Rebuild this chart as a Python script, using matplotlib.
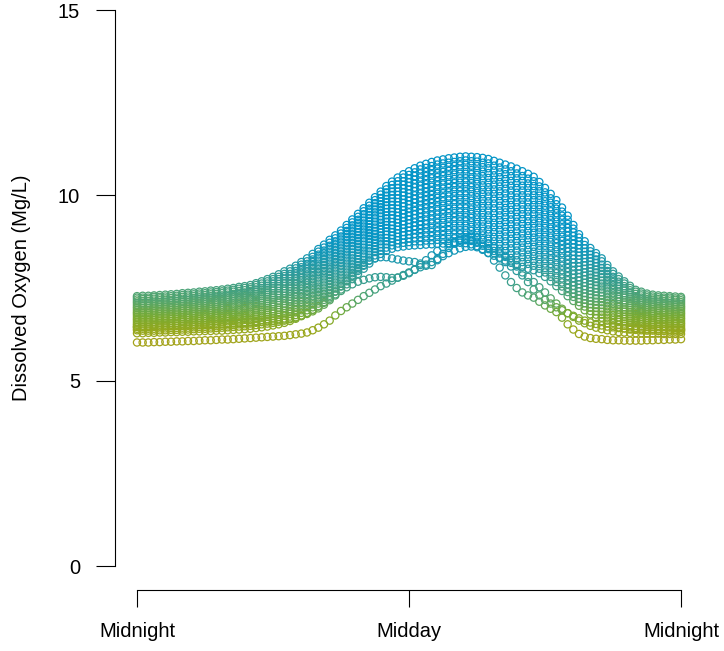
import numpy as np
import matplotlib
matplotlib.use("Agg")
import matplotlib.pyplot as plt
from matplotlib.colors import LinearSegmentedColormap, Normalize

plt.rcParams['font.family'] = ['Liberation Sans', 'DejaVu Sans']

# logger reads every 15 minutes, midnight to midnight
hours = np.linspace(0, 24, 97)

# dissolved oxygen (mg/L), one list per day
day_low = [6.36, 6.35, 6.35, 6.35, 6.36, 6.36, 6.37, 6.37, 6.38, 6.38, 6.39, 6.40,
           6.40, 6.41, 6.42, 6.43, 6.44, 6.45, 6.46, 6.47, 6.48, 6.50, 6.52, 6.54,
           6.56, 6.59, 6.62, 6.66, 6.70, 6.76, 6.83, 6.91, 7.00, 7.10, 7.21, 7.33,
           7.46, 7.60, 7.74, 7.88, 8.02, 8.16, 8.30, 8.42, 8.50, 8.56, 8.60, 8.62,
           8.64, 8.65, 8.66, 8.67, 8.68, 8.69, 8.70, 8.71, 8.72, 8.72, 8.71, 8.68,
           8.63, 8.55, 8.45, 8.37, 8.30, 8.24, 8.18, 8.12, 8.07, 8.02, 7.98, 7.90,
           7.80, 7.68, 7.55, 7.42, 7.28, 7.15, 7.02, 6.90, 6.79, 6.69, 6.61, 6.54,
           6.48, 6.44, 6.41, 6.38, 6.37, 6.36, 6.35, 6.35, 6.34, 6.34, 6.33, 6.33,
           6.33]
mid_01 = [6.40, 6.40, 6.40, 6.40, 6.41, 6.41, 6.42, 6.42, 6.43, 6.43, 6.44, 6.45,
          6.45, 6.46, 6.47, 6.48, 6.49, 6.50, 6.52, 6.52, 6.54, 6.56, 6.58, 6.60,
          6.62, 6.66, 6.68, 6.73, 6.77, 6.83, 6.90, 6.98, 7.08, 7.18, 7.29, 7.41,
          7.54, 7.68, 7.82, 7.96, 8.10, 8.24, 8.38, 8.50, 8.59, 8.65, 8.70, 8.72,
          8.74, 8.76, 8.76, 8.78, 8.79, 8.80, 8.82, 8.82, 8.84, 8.84, 8.82, 8.80,
          8.75, 8.68, 8.58, 8.50, 8.43, 8.37, 8.31, 8.25, 8.20, 8.15, 8.10, 8.02,
          7.92, 7.80, 7.66, 7.54, 7.39, 7.26, 7.12, 7.00, 6.88, 6.78, 6.70, 6.62,
          6.56, 6.51, 6.48, 6.44, 6.42, 6.41, 6.40, 6.40, 6.39, 6.39, 6.38, 6.38,
          6.38]
day_02 = [6.45, 6.44, 6.44, 6.45, 6.46, 6.46, 6.47, 6.47, 6.48, 6.48, 6.49, 6.50,
          6.50, 6.51, 6.52, 6.53, 6.54, 6.56, 6.57, 6.58, 6.59, 6.61, 6.64, 6.66,
          6.68, 6.72, 6.75, 6.80, 6.84, 6.90, 6.98, 7.06, 7.16, 7.26, 7.37, 7.49,
          7.62, 7.76, 7.90, 8.04, 8.18, 8.32, 8.47, 8.59, 8.68, 8.74, 8.79, 8.82,
          8.84, 8.86, 8.87, 8.89, 8.90, 8.92, 8.93, 8.94, 8.95, 8.95, 8.94, 8.92,
          8.87, 8.80, 8.70, 8.63, 8.56, 8.50, 8.44, 8.38, 8.33, 8.28, 8.23, 8.15,
          8.04, 7.92, 7.78, 7.65, 7.50, 7.36, 7.21, 7.09, 6.97, 6.87, 6.78, 6.70,
          6.63, 6.58, 6.54, 6.50, 6.48, 6.46, 6.45, 6.45, 6.44, 6.44, 6.43, 6.42,
          6.42]
mid_02 = [6.50, 6.49, 6.49, 6.50, 6.51, 6.51, 6.52, 6.52, 6.53, 6.53, 6.54, 6.55,
          6.55, 6.56, 6.57, 6.58, 6.60, 6.61, 6.62, 6.64, 6.64, 6.67, 6.70, 6.72,
          6.74, 6.78, 6.82, 6.86, 6.91, 6.98, 7.05, 7.14, 7.24, 7.34, 7.45, 7.57,
          7.70, 7.84, 7.98, 8.12, 8.26, 8.40, 8.55, 8.68, 8.76, 8.83, 8.88, 8.92,
          8.94, 8.96, 8.98, 9.00, 9.01, 9.03, 9.04, 9.06, 9.06, 9.06, 9.06, 9.04,
          8.99, 8.92, 8.83, 8.76, 8.69, 8.63, 8.57, 8.51, 8.46, 8.40, 8.36, 8.27,
          8.16, 8.04, 7.90, 7.76, 7.60, 7.46, 7.31, 7.18, 7.06, 6.96, 6.86, 6.78,
          6.70, 6.64, 6.60, 6.56, 6.54, 6.52, 6.50, 6.50, 6.48, 6.48, 6.48, 6.47,
          6.47]
day_03 = [6.54, 6.54, 6.54, 6.54, 6.55, 6.55, 6.56, 6.56, 6.58, 6.58, 6.59, 6.60,
          6.60, 6.61, 6.62, 6.64, 6.65, 6.66, 6.67, 6.69, 6.70, 6.73, 6.75, 6.78,
          6.81, 6.85, 6.89, 6.93, 6.98, 7.05, 7.12, 7.21, 7.31, 7.41, 7.53, 7.65,
          7.78, 7.92, 8.06, 8.20, 8.35, 8.49, 8.63, 8.76, 8.85, 8.92, 8.98, 9.01,
          9.04, 9.07, 9.09, 9.11, 9.12, 9.14, 9.15, 9.17, 9.18, 9.18, 9.18, 9.15,
          9.11, 9.04, 8.96, 8.88, 8.82, 8.76, 8.70, 8.64, 8.59, 8.53, 8.48, 8.39,
          8.28, 8.15, 8.01, 7.87, 7.71, 7.56, 7.41, 7.27, 7.15, 7.04, 6.95, 6.86,
          6.77, 6.71, 6.66, 6.62, 6.59, 6.57, 6.55, 6.54, 6.53, 6.53, 6.52, 6.52,
          6.52]
mid_03 = [6.59, 6.58, 6.58, 6.59, 6.60, 6.60, 6.61, 6.61, 6.62, 6.63, 6.64, 6.65,
          6.65, 6.66, 6.68, 6.69, 6.70, 6.72, 6.72, 6.74, 6.76, 6.78, 6.81, 6.84,
          6.87, 6.91, 6.96, 7.00, 7.05, 7.12, 7.20, 7.28, 7.39, 7.49, 7.61, 7.73,
          7.86, 8.00, 8.14, 8.28, 8.43, 8.57, 8.72, 8.84, 8.94, 9.01, 9.07, 9.11,
          9.14, 9.17, 9.20, 9.22, 9.24, 9.26, 9.26, 9.28, 9.30, 9.30, 9.30, 9.27,
          9.23, 9.16, 9.08, 9.01, 8.94, 8.89, 8.83, 8.77, 8.72, 8.66, 8.61, 8.52,
          8.40, 8.27, 8.13, 7.98, 7.82, 7.66, 7.50, 7.36, 7.24, 7.13, 7.04, 6.94,
          6.84, 6.78, 6.72, 6.68, 6.64, 6.62, 6.60, 6.59, 6.58, 6.58, 6.57, 6.56,
          6.56]
day_04 = [6.64, 6.63, 6.63, 6.64, 6.65, 6.65, 6.66, 6.66, 6.67, 6.68, 6.69, 6.70,
          6.70, 6.72, 6.73, 6.74, 6.75, 6.77, 6.78, 6.79, 6.81, 6.84, 6.87, 6.90,
          6.93, 6.97, 7.02, 7.07, 7.12, 7.19, 7.27, 7.36, 7.47, 7.57, 7.69, 7.81,
          7.94, 8.08, 8.22, 8.37, 8.51, 8.65, 8.80, 8.92, 9.03, 9.10, 9.16, 9.21,
          9.24, 9.27, 9.30, 9.32, 9.35, 9.37, 9.38, 9.40, 9.41, 9.42, 9.41, 9.39,
          9.35, 9.29, 9.21, 9.14, 9.07, 9.02, 8.96, 8.90, 8.84, 8.79, 8.74, 8.64,
          8.52, 8.39, 8.25, 8.10, 7.93, 7.77, 7.60, 7.46, 7.33, 7.22, 7.12, 7.01,
          6.92, 6.85, 6.79, 6.73, 6.69, 6.67, 6.65, 6.64, 6.63, 6.63, 6.62, 6.61,
          6.61]
mid_04 = [6.68, 6.68, 6.68, 6.68, 6.70, 6.70, 6.70, 6.71, 6.72, 6.73, 6.74, 6.75,
          6.75, 6.77, 6.78, 6.79, 6.80, 6.82, 6.84, 6.84, 6.86, 6.90, 6.92, 6.96,
          7.00, 7.04, 7.08, 7.14, 7.19, 7.26, 7.34, 7.44, 7.54, 7.65, 7.77, 7.89,
          8.02, 8.16, 8.30, 8.45, 8.59, 8.74, 8.88, 9.00, 9.12, 9.19, 9.26, 9.30,
          9.34, 9.38, 9.41, 9.43, 9.46, 9.48, 9.50, 9.52, 9.52, 9.54, 9.53, 9.50,
          9.47, 9.41, 9.34, 9.26, 9.20, 9.15, 9.09, 9.03, 8.97, 8.92, 8.86, 8.76,
          8.64, 8.50, 8.36, 8.21, 8.04, 7.87, 7.70, 7.55, 7.42, 7.30, 7.20, 7.09,
          7.00, 6.92, 6.86, 6.79, 6.74, 6.72, 6.70, 6.69, 6.68, 6.68, 6.66, 6.66,
          6.66]
day_05 = [6.73, 6.73, 6.73, 6.73, 6.74, 6.74, 6.75, 6.76, 6.77, 6.78, 6.79, 6.80,
          6.80, 6.82, 6.83, 6.84, 6.86, 6.87, 6.89, 6.90, 6.92, 6.95, 6.98, 7.02,
          7.06, 7.10, 7.15, 7.20, 7.26, 7.34, 7.42, 7.51, 7.62, 7.73, 7.85, 7.97,
          8.10, 8.24, 8.38, 8.53, 8.67, 8.82, 8.96, 9.09, 9.20, 9.28, 9.35, 9.40,
          9.44, 9.48, 9.52, 9.54, 9.57, 9.59, 9.61, 9.63, 9.64, 9.65, 9.65, 9.62,
          9.59, 9.53, 9.46, 9.39, 9.33, 9.28, 9.22, 9.16, 9.10, 9.04, 8.99, 8.88,
          8.76, 8.62, 8.48, 8.32, 8.15, 7.97, 7.79, 7.64, 7.51, 7.39, 7.29, 7.17,
          7.07, 6.99, 6.92, 6.85, 6.80, 6.78, 6.75, 6.74, 6.72, 6.72, 6.71, 6.71,
          6.70]
mid_05 = [6.78, 6.78, 6.78, 6.78, 6.79, 6.79, 6.80, 6.81, 6.82, 6.83, 6.84, 6.85,
          6.86, 6.87, 6.88, 6.90, 6.91, 6.92, 6.94, 6.96, 6.98, 7.01, 7.04, 7.08,
          7.12, 7.16, 7.22, 7.27, 7.33, 7.41, 7.50, 7.59, 7.70, 7.81, 7.93, 8.05,
          8.18, 8.32, 8.46, 8.61, 8.76, 8.90, 9.04, 9.18, 9.29, 9.38, 9.44, 9.50,
          9.54, 9.58, 9.62, 9.65, 9.68, 9.70, 9.72, 9.74, 9.76, 9.76, 9.76, 9.74,
          9.71, 9.66, 9.59, 9.52, 9.46, 9.41, 9.35, 9.29, 9.23, 9.17, 9.12, 9.00,
          8.88, 8.74, 8.60, 8.44, 8.26, 8.08, 7.89, 7.74, 7.60, 7.48, 7.38, 7.25,
          7.14, 7.06, 6.98, 6.91, 6.86, 6.83, 6.80, 6.79, 6.77, 6.77, 6.76, 6.76,
          6.75]
day_06 = [6.82, 6.82, 6.82, 6.83, 6.84, 6.84, 6.85, 6.86, 6.87, 6.88, 6.89, 6.90,
          6.91, 6.92, 6.93, 6.95, 6.96, 6.98, 7.00, 7.01, 7.03, 7.07, 7.10, 7.14,
          7.18, 7.23, 7.29, 7.34, 7.40, 7.48, 7.57, 7.67, 7.78, 7.89, 8.01, 8.13,
          8.26, 8.40, 8.55, 8.69, 8.84, 8.98, 9.13, 9.26, 9.38, 9.47, 9.54, 9.60,
          9.65, 9.69, 9.73, 9.76, 9.79, 9.82, 9.84, 9.86, 9.87, 9.88, 9.88, 9.86,
          9.83, 9.78, 9.72, 9.65, 9.59, 9.54, 9.48, 9.42, 9.36, 9.30, 9.24, 9.13,
          9.00, 8.86, 8.71, 8.55, 8.37, 8.18, 7.99, 7.83, 7.69, 7.57, 7.46, 7.33,
          7.22, 7.13, 7.05, 6.97, 6.91, 6.88, 6.85, 6.84, 6.82, 6.82, 6.81, 6.80,
          6.80]
mid_06 = [6.86, 6.86, 6.86, 6.88, 6.88, 6.89, 6.90, 6.90, 6.92, 6.92, 6.94, 6.95,
          6.96, 6.97, 6.98, 7.00, 7.01, 7.03, 7.05, 7.06, 7.08, 7.12, 7.16, 7.20,
          7.24, 7.30, 7.36, 7.41, 7.47, 7.55, 7.64, 7.74, 7.86, 7.96, 8.08, 8.20,
          8.34, 8.48, 8.63, 8.77, 8.92, 9.06, 9.21, 9.34, 9.46, 9.56, 9.64, 9.70,
          9.75, 9.80, 9.84, 9.87, 9.90, 9.93, 9.95, 9.97, 9.98, 10.00, 10.00, 9.98,
          9.95, 9.90, 9.84, 9.78, 9.72, 9.66, 9.61, 9.55, 9.49, 9.43, 9.36, 9.26,
          9.12, 8.98, 8.82, 8.66, 8.48, 8.28, 8.08, 7.92, 7.78, 7.66, 7.54, 7.41,
          7.29, 7.20, 7.11, 7.03, 6.96, 6.93, 6.90, 6.88, 6.87, 6.86, 6.86, 6.84,
          6.84]
day_07 = [6.91, 6.91, 6.91, 6.92, 6.93, 6.94, 6.95, 6.95, 6.97, 6.97, 6.98, 7.00,
          7.01, 7.02, 7.03, 7.05, 7.06, 7.08, 7.10, 7.12, 7.14, 7.18, 7.22, 7.26,
          7.30, 7.36, 7.42, 7.48, 7.54, 7.62, 7.71, 7.82, 7.93, 8.04, 8.16, 8.28,
          8.41, 8.56, 8.71, 8.85, 9.00, 9.14, 9.29, 9.43, 9.55, 9.65, 9.73, 9.79,
          9.85, 9.90, 9.94, 9.98, 10.01, 10.04, 10.06, 10.08, 10.10, 10.11, 10.11, 10.10,
          10.07, 10.03, 9.97, 9.91, 9.85, 9.79, 9.74, 9.68, 9.62, 9.56, 9.49, 9.38,
          9.24, 9.10, 8.94, 8.77, 8.58, 8.38, 8.18, 8.02, 7.86, 7.74, 7.62, 7.49,
          7.36, 7.26, 7.17, 7.09, 7.02, 6.98, 6.95, 6.93, 6.92, 6.91, 6.90, 6.89,
          6.89]
mid_07 = [6.96, 6.96, 6.96, 6.97, 6.98, 6.98, 7.00, 7.00, 7.02, 7.02, 7.03, 7.05,
          7.06, 7.07, 7.08, 7.10, 7.12, 7.14, 7.16, 7.18, 7.20, 7.24, 7.28, 7.32,
          7.36, 7.42, 7.48, 7.54, 7.61, 7.70, 7.78, 7.90, 8.01, 8.12, 8.24, 8.36,
          8.49, 8.64, 8.79, 8.93, 9.08, 9.22, 9.38, 9.52, 9.64, 9.74, 9.82, 9.89,
          9.95, 10.00, 10.05, 10.09, 10.12, 10.16, 10.18, 10.20, 10.22, 10.22, 10.23, 10.22,
          10.19, 10.15, 10.10, 10.04, 9.98, 9.92, 9.87, 9.81, 9.75, 9.68, 9.62, 9.50,
          9.36, 9.22, 9.06, 8.88, 8.69, 8.48, 8.28, 8.11, 7.95, 7.83, 7.70, 7.57,
          7.44, 7.33, 7.24, 7.15, 7.08, 7.04, 7.00, 6.98, 6.96, 6.96, 6.95, 6.94,
          6.94]
day_08 = [7.00, 7.01, 7.01, 7.02, 7.03, 7.03, 7.04, 7.05, 7.07, 7.07, 7.08, 7.10,
          7.11, 7.12, 7.13, 7.15, 7.17, 7.19, 7.21, 7.23, 7.25, 7.29, 7.33, 7.38,
          7.43, 7.49, 7.55, 7.61, 7.68, 7.77, 7.86, 7.97, 8.09, 8.20, 8.32, 8.44,
          8.57, 8.72, 8.87, 9.01, 9.16, 9.31, 9.46, 9.60, 9.73, 9.83, 9.92, 9.99,
          10.05, 10.11, 10.16, 10.20, 10.23, 10.27, 10.29, 10.31, 10.33, 10.34, 10.35, 10.33,
          10.31, 10.27, 10.22, 10.16, 10.11, 10.05, 10.00, 9.94, 9.88, 9.81, 9.74, 9.62,
          9.48, 9.33, 9.17, 9.00, 8.80, 8.59, 8.37, 8.20, 8.04, 7.92, 7.79, 7.65,
          7.51, 7.40, 7.30, 7.21, 7.13, 7.09, 7.05, 7.03, 7.01, 7.01, 7.00, 6.99,
          6.98]
mid_08 = [7.05, 7.06, 7.06, 7.06, 7.08, 7.08, 7.09, 7.10, 7.12, 7.12, 7.13, 7.15,
          7.16, 7.18, 7.18, 7.20, 7.22, 7.24, 7.26, 7.28, 7.30, 7.34, 7.39, 7.44,
          7.49, 7.55, 7.62, 7.68, 7.75, 7.84, 7.94, 8.04, 8.16, 8.28, 8.40, 8.52,
          8.65, 8.80, 8.95, 9.10, 9.24, 9.39, 9.54, 9.68, 9.82, 9.92, 10.01, 10.08,
          10.15, 10.21, 10.26, 10.30, 10.34, 10.38, 10.40, 10.42, 10.44, 10.46, 10.46, 10.45,
          10.43, 10.40, 10.34, 10.29, 10.24, 10.18, 10.13, 10.07, 10.00, 9.94, 9.87, 9.74,
          9.60, 9.45, 9.29, 9.11, 8.91, 8.69, 8.46, 8.30, 8.13, 8.00, 7.88, 7.72,
          7.58, 7.47, 7.36, 7.26, 7.18, 7.14, 7.10, 7.08, 7.06, 7.06, 7.04, 7.04,
          7.02]
day_09 = [7.10, 7.10, 7.10, 7.11, 7.12, 7.13, 7.14, 7.15, 7.16, 7.17, 7.18, 7.20,
          7.21, 7.23, 7.24, 7.25, 7.27, 7.29, 7.32, 7.33, 7.36, 7.40, 7.45, 7.50,
          7.55, 7.61, 7.68, 7.75, 7.82, 7.91, 8.01, 8.12, 8.24, 8.36, 8.48, 8.60,
          8.73, 8.88, 9.03, 9.18, 9.32, 9.47, 9.62, 9.76, 9.90, 10.01, 10.10, 10.18,
          10.25, 10.31, 10.37, 10.41, 10.46, 10.49, 10.52, 10.54, 10.56, 10.58, 10.58, 10.57,
          10.55, 10.52, 10.47, 10.42, 10.36, 10.31, 10.26, 10.20, 10.13, 10.07, 10.00, 9.87,
          9.72, 9.57, 9.41, 9.22, 9.02, 8.79, 8.56, 8.39, 8.22, 8.09, 7.96, 7.80,
          7.66, 7.54, 7.43, 7.32, 7.23, 7.19, 7.15, 7.13, 7.11, 7.10, 7.09, 7.08,
          7.07]
mid_09 = [7.14, 7.15, 7.15, 7.16, 7.17, 7.18, 7.18, 7.20, 7.21, 7.22, 7.23, 7.25,
          7.26, 7.28, 7.29, 7.30, 7.32, 7.34, 7.37, 7.38, 7.42, 7.46, 7.50, 7.56,
          7.62, 7.68, 7.75, 7.82, 7.89, 7.98, 8.08, 8.20, 8.32, 8.44, 8.56, 8.68,
          8.81, 8.96, 9.11, 9.26, 9.40, 9.56, 9.70, 9.84, 9.99, 10.10, 10.20, 10.28,
          10.35, 10.42, 10.48, 10.52, 10.57, 10.60, 10.63, 10.66, 10.68, 10.70, 10.70, 10.68,
          10.67, 10.64, 10.60, 10.54, 10.49, 10.44, 10.39, 10.33, 10.26, 10.20, 10.12, 9.99,
          9.84, 9.68, 9.52, 9.34, 9.12, 8.90, 8.66, 8.48, 8.31, 8.18, 8.04, 7.88,
          7.73, 7.60, 7.49, 7.38, 7.28, 7.24, 7.20, 7.18, 7.16, 7.15, 7.14, 7.13,
          7.12]
day_10 = [7.19, 7.20, 7.20, 7.21, 7.22, 7.22, 7.23, 7.24, 7.26, 7.27, 7.28, 7.30,
          7.31, 7.33, 7.34, 7.36, 7.38, 7.40, 7.42, 7.44, 7.47, 7.52, 7.56, 7.62,
          7.68, 7.74, 7.82, 7.88, 7.96, 8.06, 8.15, 8.27, 8.40, 8.51, 8.64, 8.76,
          8.89, 9.04, 9.19, 9.34, 9.49, 9.64, 9.79, 9.93, 10.08, 10.19, 10.29, 10.38,
          10.45, 10.52, 10.59, 10.63, 10.68, 10.72, 10.74, 10.77, 10.79, 10.81, 10.82, 10.80,
          10.79, 10.76, 10.73, 10.67, 10.62, 10.57, 10.52, 10.46, 10.39, 10.32, 10.25, 10.11,
          9.96, 9.80, 9.64, 9.45, 9.23, 9.00, 8.76, 8.57, 8.40, 8.27, 8.13, 7.96,
          7.80, 7.67, 7.55, 7.44, 7.34, 7.30, 7.25, 7.22, 7.20, 7.20, 7.19, 7.18,
          7.17]
mid_10 = [7.24, 7.24, 7.24, 7.26, 7.26, 7.27, 7.28, 7.29, 7.31, 7.32, 7.33, 7.35,
          7.36, 7.38, 7.39, 7.41, 7.43, 7.45, 7.48, 7.50, 7.52, 7.58, 7.62, 7.68,
          7.74, 7.80, 7.88, 7.95, 8.03, 8.13, 8.22, 8.34, 8.48, 8.59, 8.72, 8.84,
          8.97, 9.12, 9.27, 9.42, 9.57, 9.72, 9.87, 10.02, 10.16, 10.28, 10.38, 10.48,
          10.55, 10.62, 10.70, 10.74, 10.79, 10.83, 10.86, 10.88, 10.90, 10.92, 10.94, 10.92,
          10.91, 10.88, 10.86, 10.80, 10.75, 10.70, 10.65, 10.59, 10.52, 10.45, 10.38, 10.24,
          10.08, 9.92, 9.76, 9.56, 9.34, 9.10, 8.86, 8.66, 8.49, 8.36, 8.22, 8.04,
          7.88, 7.74, 7.62, 7.50, 7.40, 7.35, 7.30, 7.27, 7.25, 7.24, 7.24, 7.22,
          7.22]
day_top = [7.28, 7.29, 7.29, 7.30, 7.31, 7.32, 7.33, 7.34, 7.36, 7.37, 7.38, 7.40,
           7.41, 7.43, 7.44, 7.46, 7.48, 7.50, 7.53, 7.55, 7.58, 7.63, 7.68, 7.74,
           7.80, 7.87, 7.95, 8.02, 8.10, 8.20, 8.30, 8.42, 8.55, 8.67, 8.80, 8.92,
           9.05, 9.20, 9.35, 9.50, 9.65, 9.80, 9.95, 10.10, 10.25, 10.37, 10.48, 10.57,
           10.65, 10.73, 10.80, 10.85, 10.90, 10.94, 10.97, 11.00, 11.02, 11.04, 11.05, 11.04,
           11.03, 11.01, 10.98, 10.93, 10.88, 10.83, 10.78, 10.72, 10.65, 10.58, 10.50, 10.36,
           10.20, 10.04, 9.87, 9.67, 9.45, 9.20, 8.95, 8.76, 8.58, 8.44, 8.30, 8.12,
           7.95, 7.81, 7.68, 7.56, 7.45, 7.40, 7.35, 7.32, 7.30, 7.29, 7.28, 7.27,
           7.26]
day_dull1 = [6.03, 6.03, 6.03, 6.04, 6.04, 6.05, 6.05, 6.06, 6.06, 6.07, 6.07, 6.08,
             6.09, 6.09, 6.10, 6.11, 6.11, 6.12, 6.13, 6.14, 6.15, 6.16, 6.17, 6.18,
             6.19, 6.20, 6.21, 6.23, 6.25, 6.27, 6.30, 6.36, 6.43, 6.52, 6.62, 6.76,
             6.88, 6.98, 7.08, 7.18, 7.28, 7.37, 7.46, 7.55, 7.62, 7.70, 7.78, 7.85,
             7.92, 7.99, 8.06, 8.13, 8.20, 8.28, 8.36, 8.44, 8.51, 8.57, 8.61, 8.62,
             8.60, 8.53, 8.44, 8.24, 8.05, 7.84, 7.66, 7.50, 7.38, 7.30, 7.24, 7.13,
             7.03, 6.94, 6.85, 6.70, 6.52, 6.38, 6.26, 6.19, 6.15, 6.13, 6.12, 6.10,
             6.09, 6.09, 6.08, 6.08, 6.08, 6.08, 6.09, 6.09, 6.10, 6.10, 6.11, 6.11,
             6.12]
day_dull2 = [6.28, 6.28, 6.29, 6.29, 6.30, 6.30, 6.31, 6.31, 6.32, 6.32, 6.33, 6.33,
             6.34, 6.34, 6.35, 6.35, 6.36, 6.37, 6.38, 6.39, 6.40, 6.42, 6.44, 6.46,
             6.49, 6.52, 6.56, 6.61, 6.67, 6.74, 6.82, 6.91, 7.01, 7.12, 7.25, 7.40,
             7.55, 7.70, 7.84, 8.00, 8.12, 8.24, 8.30, 8.33, 8.33, 8.30, 8.27, 8.24,
             8.22, 8.20, 8.16, 8.10, 8.12, 8.25, 8.42, 8.58, 8.70, 8.80, 8.86, 8.88,
             8.86, 8.80, 8.70, 8.58, 8.46, 8.34, 8.22, 8.08, 7.92, 7.80, 7.66, 7.52,
             7.38, 7.22, 7.08, 6.94, 6.82, 6.72, 6.62, 6.55, 6.48, 6.43, 6.39, 6.36,
             6.33, 6.31, 6.30, 6.29, 6.28, 6.28, 6.27, 6.27, 6.27, 6.26, 6.26, 6.26,
             6.26]
day_dull3 = [6.45, 6.45, 6.45, 6.46, 6.46, 6.47, 6.47, 6.48, 6.48, 6.49, 6.49, 6.50,
             6.50, 6.51, 6.52, 6.52, 6.53, 6.54, 6.55, 6.56, 6.57, 6.58, 6.59, 6.60,
             6.61, 6.63, 6.65, 6.68, 6.71, 6.75, 6.80, 6.87, 6.95, 7.05, 7.17, 7.30,
             7.42, 7.52, 7.60, 7.67, 7.72, 7.76, 7.79, 7.80, 7.79, 7.77, 7.78, 7.83,
             7.90, 8.00, 8.12, 8.25, 8.38, 8.50, 8.60, 8.68, 8.74, 8.78, 8.79, 8.77,
             8.72, 8.64, 8.55, 8.44, 8.32, 8.20, 8.08, 7.96, 7.84, 7.66, 7.46, 7.30,
             7.18, 7.08, 6.98, 6.90, 6.82, 6.75, 6.68, 6.62, 6.57, 6.53, 6.49, 6.46,
             6.44, 6.42, 6.41, 6.40, 6.39, 6.39, 6.38, 6.38, 6.38, 6.38, 6.37, 6.37,
             6.37]

days = [day_dull1, day_dull2, day_dull3,
        day_low, mid_01, day_02, mid_02, day_03, mid_03, day_04, mid_04, day_05,
        mid_05, day_06, mid_06, day_07, mid_07, day_08, mid_08, day_09, mid_09,
        day_10, mid_10, day_top]

y_ticks = [0, 5, 10, 15]
x_ticks = [0, 12, 24]
x_labels = ["Midnight", "Midday", "Midnight"]

# colour follows the oxygen level: olive when low, blue when high
do_stops = [6.0, 6.4, 6.8, 7.2, 7.6, 8.0, 8.4, 8.8, 9.2]
do_colours = ["#a6a31c", "#96a81c", "#78ab34", "#56a66c", "#3d9f88",
              "#2b9b9f", "#1898b4", "#0a96c2", "#0495c7"]
lo, hi = do_stops[0], do_stops[-1]
cmap = LinearSegmentedColormap.from_list(
    "do", [((s - lo) / (hi - lo), c) for s, c in zip(do_stops, do_colours)])
norm = Normalize(lo, hi, clip=True)

fig = plt.figure(figsize=(7.24, 6.51), dpi=100)
ax = fig.add_axes([137 / 724, 85 / 651, 544 / 724, 556 / 651])

for d in days:
    v = np.asarray(d)
    n = min(len(v), len(hours))
    ax.scatter(hours[:n], v[:n], s=27, facecolors="none",
               edgecolors=cmap(norm(v[:n])), linewidths=0.9, clip_on=False)

ax.set_xlim(0, 24)
ax.set_ylim(0, 15)
for side in ["top", "right"]:
    ax.spines[side].set_visible(False)
ax.spines["left"].set_position(("outward", 15.5))
ax.spines["bottom"].set_position(("outward", 17.3))
ax.spines["left"].set_bounds(0, 15)
ax.spines["bottom"].set_bounds(0, 24)
for side in ["left", "bottom"]:
    ax.spines[side].set_linewidth(0.8)

ax.set_yticks(y_ticks)
ax.set_xticks(x_ticks)
ax.set_xticklabels(x_labels)
ax.tick_params(axis="y", length=14, width=0.8, pad=11.5, labelsize=14.5)
ax.tick_params(axis="x", length=12, width=0.8, pad=11, labelsize=14.5)

fig.text(22 / 724, 1 - 288 / 651, "Dissolved Oxygen (Mg/L)", rotation=90,
         ha="center", va="center", fontsize=14.5)

fig.savefig("out.png", dpi=100)
